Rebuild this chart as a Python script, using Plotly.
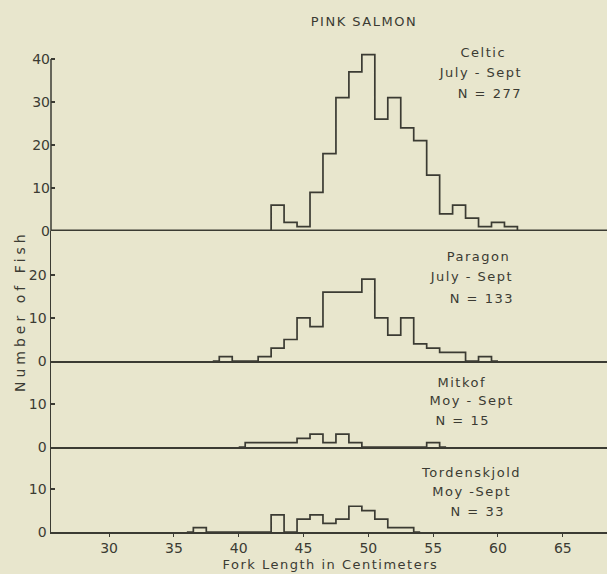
import plotly.graph_objects as go
from plotly.subplots import make_subplots

# ---- data (1-cm fork-length bins, bin centres) ----
celtic_len = list(range(42, 63))
celtic_n = [0, 6, 2, 1, 9, 18, 31, 37, 41, 26, 31, 24, 21, 13, 4, 6, 3, 1, 2, 1, 0]

paragon_len = list(range(38, 61))
paragon_n = [0, 1, 0, 0, 1, 3, 5, 10, 8, 16, 16, 16, 19, 10, 6, 10, 4, 3, 2, 2, 0, 1, 0]

mitkof_len = list(range(40, 57))
mitkof_n = [0, 1, 1, 1, 1, 2, 3, 1, 3, 1, 0, 0, 0, 0, 0, 1, 0]

torden_len = list(range(36, 55))
torden_n = [0, 1, 0, 0, 0, 0, 0, 4, 0, 3, 4, 2, 3, 6, 5, 3, 1, 1, 0]

x_ticks = [30, 35, 40, 45, 50, 55, 60, 65]

panel_labels = [
    ["Celtic", "July - Sept", "N = 277"],
    ["Paragon", "July - Sept", "N = 133"],
    ["Mitkof", "Moy - Sept", "N = 15"],
    ["Tordenskjold", "Moy -Sept", "N = 33"],
]

# ---- styling ----
W, H = 607, 574
ML, MR, MT, MB = 51, 0, 53, 42
BG = "#e8e6cd"
INK = "#3b3b33"
FONT = "DejaVu Sans"

fig = make_subplots(rows=4, cols=1, shared_xaxes=False, vertical_spacing=0,
                    row_heights=[178, 130, 86, 85])

series = [(celtic_len, celtic_n), (paragon_len, paragon_n),
          (mitkof_len, mitkof_n), (torden_len, torden_n)]
for i, (xs, ys) in enumerate(series, start=1):
    fig.add_trace(go.Scatter(x=xs, y=ys, mode="lines", line_shape="hvh",
                             line=dict(color=INK, width=1.7),
                             hoverinfo="skip", showlegend=False), row=i, col=1)

y_ranges = [[0, 41.4], [0, 30.2], [0, 20], [0, 19.8]]
y_ticks = [[0, 10, 20, 30, 40], [0, 10, 20], [0, 10], [0, 10]]
for i in range(4):
    fig.update_yaxes(range=y_ranges[i], tickvals=y_ticks[i],
                     ticks="inside", ticklen=4, tickwidth=1.3, tickcolor=INK,
                     showline=(i != 0), linecolor=INK, linewidth=1.5,
                     showgrid=False, zeroline=False, fixedrange=True,
                     tickfont=dict(family=FONT, size=14, color=INK),
                     row=i + 1, col=1)
    fig.update_xaxes(range=[25.52, 68.41], showline=True, linecolor=INK,
                     linewidth=1.6, showgrid=False, zeroline=False,
                     tickvals=x_ticks, fixedrange=True,
                     ticks="outside" if i == 3 else "", ticklen=3,
                     tickcolor=INK, showticklabels=(i == 3),
                     tickfont=dict(family=FONT, size=14, color=INK),
                     row=i + 1, col=1)

# left axis of top panel ends at the 40 tick; baseline of top panel
fig.add_shape(type="line", xref="x domain", yref="y", x0=0, x1=0, y0=0, y1=40,
              line=dict(color=INK, width=1.5))
fig.add_shape(type="line", xref="x domain", yref="y", x0=0, x1=1, y0=0, y1=0,
              line=dict(color=INK, width=3.2))


def px(xp):
    return (xp - ML) / (W - ML - MR)


def py(yp):
    return (H - MB - yp) / (H - MT - MB)


ann_pos = [
    [(483, 52), (480, 72), (490, 93)],
    [(478, 256), (471, 276), (482, 298)],
    [(462, 382), (471, 400), (462, 420)],
    [(471, 472), (471, 491), (477, 511)],
]
for labels, pos in zip(panel_labels, ann_pos):
    for t, (ax_, ay_) in zip(labels, pos):
        fig.add_annotation(text=t, x=px(ax_), y=py(ay_), xref="paper", yref="paper",
                           showarrow=False, xanchor="center", yanchor="middle",
                           font=dict(family=FONT, size=13, color=INK))

fig.add_annotation(text="PINK SALMON", x=px(364), y=py(21), xref="paper", yref="paper",
                   showarrow=False, xanchor="center", yanchor="middle",
                   font=dict(family=FONT, size=13, color=INK))
fig.add_annotation(text="Fork Length in Centimeters", x=px(330), y=py(564),
                   xref="paper", yref="paper", showarrow=False,
                   xanchor="center", yanchor="middle",
                   font=dict(family=FONT, size=13, color=INK))
fig.add_annotation(text="Number of Fish", x=px(20), y=py(311), xref="paper", yref="paper",
                   showarrow=False, textangle=-90, xanchor="center", yanchor="middle",
                   font=dict(family=FONT, size=14, color=INK))

fig.update_layout(width=W, height=H, margin=dict(l=ML, r=MR, t=MT, b=MB),
                  paper_bgcolor=BG, plot_bgcolor=BG, showlegend=False)

post = """
document.body.style.margin = '0';
document.body.style.padding = '0';
document.body.style.background = '%s';
document.querySelectorAll('.annotation-text').forEach(function(e){
  var t = e.textContent;
  e.style.letterSpacing = (t === 'Number of Fish') ? '4px' : '1.5px';
});
""" % BG
fig.write_html("out.html", post_script=post,
               config={"displayModeBar": False, "staticPlot": True})
